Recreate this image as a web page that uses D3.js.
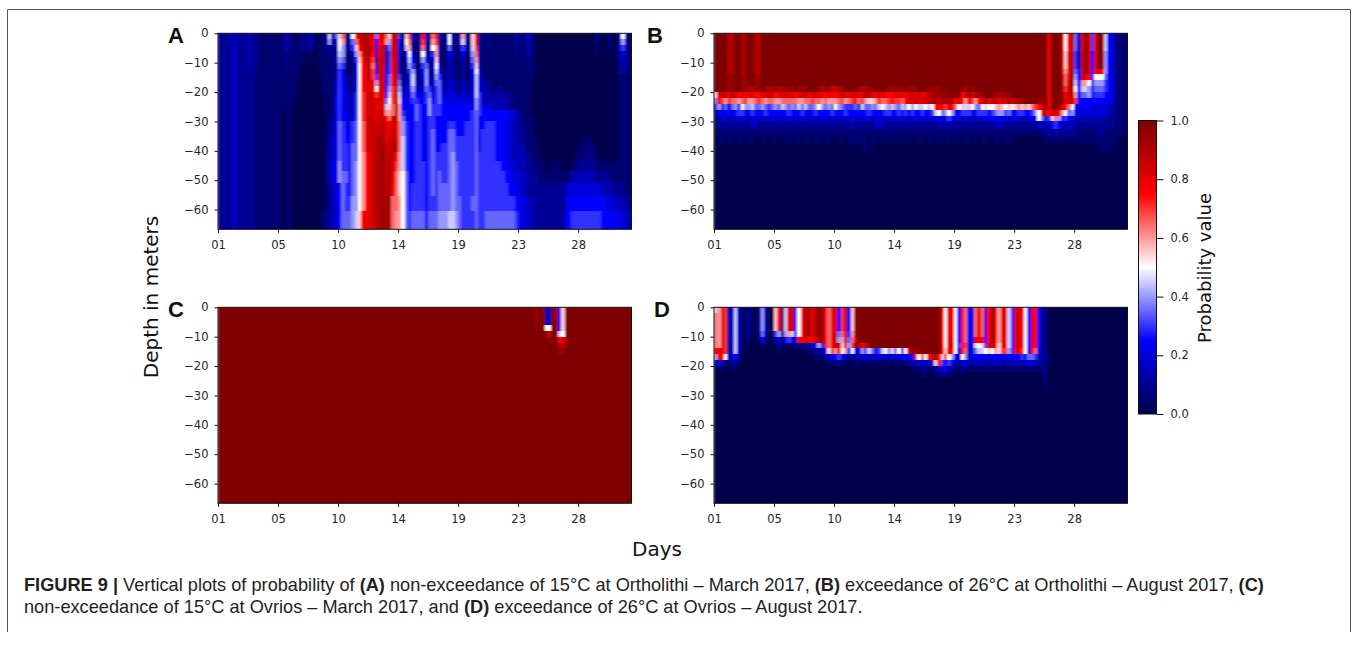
<!DOCTYPE html>
<html>
<head>
<meta charset="utf-8">
<script src="https://cdn.jsdelivr.net/npm/d3@7"></script>
<style>
  html, body { margin: 0; padding: 0; background: #fff; }
  svg { display: block; }
</style>
</head>
<body>
<div id="chart"></div>
<script>
// ======================================================================
// DATA, one string per depth row, one char per
// 6-hour step. Char is base 36, value = char / 20 (0 = 0.0, a = 0.5, k = 1.0)
// ======================================================================
const depthEdges = [0, -2, -4, -6, -8, -10, -12, -14, -16, -18, -20, -22, -24, -26, -28, -30,
  -32.5, -35, -37.5, -40.5, -43.5, -47, -51, -55.5, -60.5, -66.7];
const dayTicks = [0, 18, 36, 54, 72, 90, 108];
const dayLabels = ["01", "05", "10", "14", "19", "23", "28"];
const depthTicks = [0, -10, -20, -30, -40, -50, -60];
const colorTicks = [0, 0.2, 0.4, 0.6, 0.8, 1];
const colorStops = [0, 0.25, 0.5, 0.75, 1];
const colorRange = ["#00004c", "#0000ff", "#ffffff", "#ff0000", "#7f0000"];

const panelA = [
  "2222332223 2211111111 3211121320 112937bd23 afhiihg7fg dbhh61be31 3f41df313a 313c31bg21 1211111113 1134100000 0000000000 0002000200 3a21",
  "2222332223 2211111111 3211121320 112825ac22 7dgiihg5fg c8hi51ad21 2e31ce212a 213921bg21 1211111113 1123100000 0000000000 0002000200 3821",
  "2222332223 2211111111 3211121310 111313a822 6bfhiig4gh 37hi519c21 2d31ac2127 2126219e21 1111111112 1123100000 0000000000 0001000100 3621",
  "2222332223 2211111111 2111110100 1112139811 38cgiif3gh 26hi415a31 1a416c2115 2124218d21 1111111112 1122100000 0000000000 0001000100 3421",
  "2222332223 2211111111 2111110100 1111138711 26bfiie2hh 26gi413951 18514b3114 2113117c31 1111111111 1112100000 0000000000 0000000000 2321",
  "2222332223 2211111111 2111100000 1111137611 15afhid3hh 36gi312861 16713a4113 2112116b31 1111111111 1112100000 0000000000 0000000000 2221",
  "2222332222 2111111111 1111100000 1111136511 15afgie4hh 46gi412682 1582295213 2112115a41 1111111111 1111100000 0000000000 0000000000 2221",
  "2222332222 2111111111 1111000000 0111136521 25afgie6hh 47fi612592 2483286223 2112114951 1111111111 1111100000 0000000000 0000000000 1111",
  "2222332222 2111111111 1111000000 0111146522 25afghf8gh 47fi713493 2384377324 3213214952 2211111111 1111000000 0000000000 0000000000 1111",
  "2222332222 2111111111 1111000000 0111146522 25afgggagh 58ei834484 3376367334 3223224952 3211311111 1111000000 0000000000 0000000000 1111",
  "2222332222 2111111111 1110000000 0011146532 36aeghhegg 59ei944475 4467467434 4334334963 3322322211 1111000000 0000000000 0000000000 1111",
  "2222332222 2111111111 1110000000 0011156533 36aeghhggg 7aeib54566 5568567544 4444444863 3333332221 1111000000 0000000000 0000000000 1111",
  "2222332222 2111111111 1100000000 0011156533 36aeghhggh 9bdic54557 6558666555 5555555864 4433332211 1111000000 0000000000 0000000000 1111",
  "2222332222 2111111110 1100000000 0011156543 36aeghhghh ccdic64557 6558666555 5555556765 5555555543 2111000000 0000000000 0000000000 1111",
  "2222332222 2111111110 1100000000 0011256543 46aegihghh fdhhc74557 6546655555 5555556755 5555555443 2111100000 0000000000 0000000000 1111",
  "2222332222 2111111110 1100000000 0012257644 67adghhhhi gfhhd86556 6546655556 6555666755 6665554432 3111100000 0000000000 0000000000 1111",
  "2222332222 2111111110 1100000000 0012257654 67adghhhhi gghhd86556 6546755557 7555666756 6665554433 2211100000 0000000000 0000000000 1111",
  "2222332222 2111111110 1100000000 0012357655 67adghhiii ghhhd96556 6546755557 7666666756 6665554433 2211110000 0000000001 1100000000 1111",
  "2222332222 2111111110 1100000000 0012357665 77adghhiij hhiid96556 6546755667 7666666756 6665554433 3311110000 0000000011 1110000000 1111",
  "2222332222 2111111110 1100000000 0013357665 77acfghiij hihfc96556 6546766667 8666666766 6665554433 3322111000 0000000111 2211000000 1111",
  "2222332222 2111111110 1100000000 0013458665 78acfghiij hihec96556 6656766667 8766666766 6666655443 3322211100 1110001122 2221111111 1111",
  "2222332222 2111111110 1100000000 0013458775 78acfghiij hjgdba7556 6656767667 8766666766 6666665544 4332221111 1111113333 3332222211 1111",
  "2222332222 2111111110 1100000000 0012345765 78acfghiij hjfdba7566 6656767777 8766666766 6666666554 4332222222 2222344444 4444433322 2211",
  "2222332222 2111111110 1100000000 0012345766 88acfghiij ijddca7566 6656667777 8776667766 6666666665 5443322222 2222455555 5555554443 3322",
  "2222332222 2111111110 1100000000 0122345777 89bfgghiij ijdcca7677 7757778889 9876666766 7777777776 5443322222 2222556666 6666655555 4433"
];

const panelB = [
  "kkkkiikkij kkiikkkkkk kkkkkkkkkk kkkkkkkkkk kkkkkkkkkk kkkkkkkkkk kkkkkkkkkk kkkkkkkkkk kkkkkkkkkk kkkkkkkkkk gkkkhafi73 gkh6gkj954 2111",
  "kkkkiikkij kkiikkkkkk kkkkkkkkkk kkkkkkkkkk kkkkkkkkkk kkkkkkkkkk kkkkkkkkkk kkkkkkkkkk kkkkkkkkkk kkkkkkkkkk gkkkhafi73 gkh6gkj954 2111",
  "kkkkiikkij kkiikkkkkk kkkkkkkkkk kkkkkkkkkk kkkkkkkkkk kkkkkkkkkk kkkkkkkkkk kkkkkkkkkk kkkkkkkkkk kkkkkkkkkk gkkkhafi73 gkh6gkj954 2111",
  "kkkkiikkij kkiikkkkkk kkkkkkkkkk kkkkkkkkkk kkkkkkkkkk kkkkkkkkkk kkkkkkkkkk kkkkkkkkkk kkkkkkkkkk kkkkkkkkkk gkkkhbgi63 hkh5gkj854 2111",
  "kkkkiikkij kkiikkkkkk kkkkkkkkkk kkkkkkkkkk kkkkkkkkkk kkkkkkkkkk kkkkkkkkkk kkkkkkkkkk kkkkkkkkkk kkkkkkkkkk gkkkhbgi63 hkh5gkj854 2111",
  "kkkkiikkij kkiikkkkkk kkkkkkkkkk kkkkkkkkkk kkkkkkkkkk kkkkkkkkkk kkkkkkkkkk kkkkkkkkkk kkkkkkkkkk kkkkkkkkkk gkkkhbgi63 hkh5gkj854 2111",
  "kkkkiikkij kkiikkkkkk kkkkkkkkkk kkkkkkkkkk kkkkkkkkkk kkkkkkkkkk kkkkkkkkkk kkkkkkkkkk kkkkkkkkkk kkkkkkkkkk gkkkhcgj75 hkh5fgf854 2111",
  "kkkkjjkkjj kkjjkkkkkk kkkkkkkkkk kkkkkkkkkk kkkkkkkkkk kkkkkkkkkk kkkkkkkkkk kkkkkkkkkk kkkkkkkkkk kkkkkkkkkk gkkkidgj85 hgf5aaa754 2111",
  "kkkkjjkkjj kkjjkkkkkk kkkkkkkkkk kkkkkkkkkk kkkkkkkkkk kkkkkkkkkk kkkkkkkkkk kkkkkkkkkk kkkkkkkkkk kkkkkkkkkk gkkkidhj95 cca5888654 2111",
  "kkkkjjkkjj iijjkjiiji ijjjkjjjkk kjijjhhijk kkkjiijjkk kkjjjjjkjj jkkkjjjjkk kkkkjikjkk kkkkkkkkkk kkkkkkkkkk gkkkiehia5 9985777654 2111",
  "bhhhgihfgf ggffgghhfg ghggfghhgg hggfgffgig gghggihgfh ggffgggfhh ghggiijjjj jkjkfgjgij jkkkjijjjk kkkkkkkkkk gkkkjfhic5 7785666554 2111",
  "7feceddcde ccdedcddcc dddddccdde ddcdcccdec defdecbbce ddefeedfgg hgghhiihii iifgfcfecf gighighgih iijkkkkjjk gjkkjgghe5 5555555544 2111",
  "48575786a8 8977876787 9878797977 8a8787a876 6676977879 a9898798a8 a99a9affge gfda9b9a87 abaabcbaba bcbcbdefhj gkkjgfda54 5554444433 2111",
  "1544545665 5655565555 5565556555 6555565556 5555556555 5665565656 5565569a78 a855666556 6656788675 5665568ahh fhhfca7854 4444444432 2111",
  "1334344434 3443434443 4444344434 4344344343 4443444344 4343443434 4444444555 6544344334 4455554444 4433455a75 6bd8565533 3333333222 2111",
  "1222222222 2332222222 2222222222 2222222222 2322222233 3222222222 2222222322 3222222222 2222333222 2222222333 3565333322 2222222222 1111",
  "0111111111 1111111111 1111111111 1111111111 1111111111 1111111111 1111111111 1111111111 1111111111 1111111122 2232222221 1111122111 1111",
  "0110110110 1100110110 0110110110 1101100110 1111110110 1011011010 0110110110 1011011010 1100110110 0000000001 1111111111 1111111111 1000",
  "0000000000 0000000000 0000000000 0000000000 0100110100 0000000000 0000000000 0000000000 0000000000 0000000000 0000000000 0000011110 1000",
  "0000000000 0000000000 0000000000 0000000000 0000000000 0000000000 0000000000 0000000000 0000000000 0000000000 0000000000 0000000000 0000",
  "0000000000 0000000000 0000000000 0000000000 0000000000 0000000000 0000000000 0000000000 0000000000 0000000000 0000000000 0000000000 0000",
  "0000000000 0000000000 0000000000 0000000000 0000000000 0000000000 0000000000 0000000000 0000000000 0000000000 0000000000 0000000000 0000",
  "0000000000 0000000000 0000000000 0000000000 0000000000 0000000000 0000000000 0000000000 0000000000 0000000000 0000000000 0000000000 0000",
  "0000000000 0000000000 0000000000 0000000000 0000000000 0000000000 0000000000 0000000000 0000000000 0000000000 0000000000 0000000000 0000",
  "0000000000 0000000000 0000000000 0000000000 0000000000 0000000000 0000000000 0000000000 0000000000 0000000000 0000000000 0000000000 0000"
];

const panelC = [
  "kkkkkkkkkk kkkkkkkkkk kkkkkkkkkk kkkkkkkkkk kkkkkkkkkk kkkkkkkkkk kkkkkkkkkk kkkkkkkkkk kkkkkkkkkk kkkkkjkk33 kj5bkkkkkk kkkkkkkkkk kkkk",
  "kkkkkkkkkk kkkkkkkkkk kkkkkkkkkk kkkkkkkkkk kkkkkkkkkk kkkkkkkkkk kkkkkkkkkk kkkkkkkkkk kkkkkkkkkk kkkkkjkk33 kj5bkkkkkk kkkkkkkkkk kkkk",
  "kkkkkkkkkk kkkkkkkkkk kkkkkkkkkk kkkkkkkkkk kkkkkkkkkk kkkkkkkkkk kkkkkkkkkk kkkkkkkkkk kkkkkkkkkk kkkkkjkk33 kj5bkkkkkk kkkkkkkkkk kkkk",
  "kkkkkkkkkk kkkkkkkkkk kkkkkkkkkk kkkkkkkkkk kkkkkkkkkk kkkkkkkkkk kkkkkkkkkk kkkkkkkkkk kkkkkkkkkk kkkkkjkkaa kj5bkkkkkk kkkkkkkkkk kkkk",
  "kkkkkkkkkk kkkkkkkkkk kkkkkkkkkk kkkkkkkkkk kkkkkkkkkk kkkkkkkkkk kkkkkkkkkk kkkkkkkkkk kkkkkkkkkk kkkkkkkkjh kj9akkkkkk kkkkkkkkkk kkkk",
  "kkkkkkkkkk kkkkkkkkkk kkkkkkkkkk kkkkkkkkkk kkkkkkkkkk kkkkkkkkkk kkkkkkkkkk kkkkkkkkkk kkkkkkkkkk kkkkkkkkkj kkfgjkkkkk kkkkkkkkkk kkkk",
  "kkkkkkkkkk kkkkkkkkkk kkkkkkkkkk kkkkkkkkkk kkkkkkkkkk kkkkkkkkkk kkkkkkkkkk kkkkkkkkkk kkkkkkkkkk kkkkkkkkkk kkiijkkkkk kkkkkkkkkk kkkk",
  "kkkkkkkkkk kkkkkkkkkk kkkkkkkkkk kkkkkkkkkk kkkkkkkkkk kkkkkkkkkk kkkkkkkkkk kkkkkkkkkk kkkkkkkkkk kkkkkkkkkk kkjjkkkkkk kkkkkkkkkk kkkk",
  "kkkkkkkkkk kkkkkkkkkk kkkkkkkkkk kkkkkkkkkk kkkkkkkkkk kkkkkkkkkk kkkkkkkkkk kkkkkkkkkk kkkkkkkkkk kkkkkkkkkk kkkkkkkkkk kkkkkkkkkk kkkk",
  "kkkkkkkkkk kkkkkkkkkk kkkkkkkkkk kkkkkkkkkk kkkkkkkkkk kkkkkkkkkk kkkkkkkkkk kkkkkkkkkk kkkkkkkkkk kkkkkkkkkk kkkkkkkkkk kkkkkkkkkk kkkk",
  "kkkkkkkkkk kkkkkkkkkk kkkkkkkkkk kkkkkkkkkk kkkkkkkkkk kkkkkkkkkk kkkkkkkkkk kkkkkkkkkk kkkkkkkkkk kkkkkkkkkk kkkkkkkkkk kkkkkkkkkk kkkk",
  "kkkkkkkkkk kkkkkkkkkk kkkkkkkkkk kkkkkkkkkk kkkkkkkkkk kkkkkkkkkk kkkkkkkkkk kkkkkkkkkk kkkkkkkkkk kkkkkkkkkk kkkkkkkkkk kkkkkkkkkk kkkk",
  "kkkkkkkkkk kkkkkkkkkk kkkkkkkkkk kkkkkkkkkk kkkkkkkkkk kkkkkkkkkk kkkkkkkkkk kkkkkkkkkk kkkkkkkkkk kkkkkkkkkk kkkkkkkkkk kkkkkkkkkk kkkk",
  "kkkkkkkkkk kkkkkkkkkk kkkkkkkkkk kkkkkkkkkk kkkkkkkkkk kkkkkkkkkk kkkkkkkkkk kkkkkkkkkk kkkkkkkkkk kkkkkkkkkk kkkkkkkkkk kkkkkkkkkk kkkk",
  "kkkkkkkkkk kkkkkkkkkk kkkkkkkkkk kkkkkkkkkk kkkkkkkkkk kkkkkkkkkk kkkkkkkkkk kkkkkkkkkk kkkkkkkkkk kkkkkkkkkk kkkkkkkkkk kkkkkkkkkk kkkk",
  "kkkkkkkkkk kkkkkkkkkk kkkkkkkkkk kkkkkkkkkk kkkkkkkkkk kkkkkkkkkk kkkkkkkkkk kkkkkkkkkk kkkkkkkkkk kkkkkkkkkk kkkkkkkkkk kkkkkkkkkk kkkk",
  "kkkkkkkkkk kkkkkkkkkk kkkkkkkkkk kkkkkkkkkk kkkkkkkkkk kkkkkkkkkk kkkkkkkkkk kkkkkkkkkk kkkkkkkkkk kkkkkkkkkk kkkkkkkkkk kkkkkkkkkk kkkk",
  "kkkkkkkkkk kkkkkkkkkk kkkkkkkkkk kkkkkkkkkk kkkkkkkkkk kkkkkkkkkk kkkkkkkkkk kkkkkkkkkk kkkkkkkkkk kkkkkkkkkk kkkkkkkkkk kkkkkkkkkk kkkk",
  "kkkkkkkkkk kkkkkkkkkk kkkkkkkkkk kkkkkkkkkk kkkkkkkkkk kkkkkkkkkk kkkkkkkkkk kkkkkkkkkk kkkkkkkkkk kkkkkkkkkk kkkkkkkkkk kkkkkkkkkk kkkk",
  "kkkkkkkkkk kkkkkkkkkk kkkkkkkkkk kkkkkkkkkk kkkkkkkkkk kkkkkkkkkk kkkkkkkkkk kkkkkkkkkk kkkkkkkkkk kkkkkkkkkk kkkkkkkkkk kkkkkkkkkk kkkk",
  "kkkkkkkkkk kkkkkkkkkk kkkkkkkkkk kkkkkkkkkk kkkkkkkkkk kkkkkkkkkk kkkkkkkkkk kkkkkkkkkk kkkkkkkkkk kkkkkkkkkk kkkkkkkkkk kkkkkkkkkk kkkk",
  "kkkkkkkkkk kkkkkkkkkk kkkkkkkkkk kkkkkkkkkk kkkkkkkkkk kkkkkkkkkk kkkkkkkkkk kkkkkkkkkk kkkkkkkkkk kkkkkkkkkk kkkkkkkkkk kkkkkkkkkk kkkk",
  "kkkkkkkkkk kkkkkkkkkk kkkkkkkkkk kkkkkkkkkk kkkkkkkkkk kkkkkkkkkk kkkkkkkkkk kkkkkkkkkk kkkkkkkkkk kkkkkkkkkk kkkkkkkkkk kkkkkkkkkk kkkk",
  "kkkkkkkkkk kkkkkkkkkk kkkkkkkkkk kkkkkkkkkk kkkkkkkkkk kkkkkkkkkk kkkkkkkkkk kkkkkkkkkk kkkkkkkkkk kkkkkkkkkk kkkkkkkkkk kkkkkkkkkk kkkk",
  "kkkkkkkkkk kkkkkkkkkk kkkkkkkkkk kkkkkkkkkk kkkkkkkkkk kkkkkkkkkk kkkkkkkkkk kkkkkkkkkk kkkkkkkkkk kkkkkkkkkk kkkkkkkkkk kkkkkkkkkk kkkk"
];

const panelD = [
  "9cge249301 20028300bf 19gh5afiig ijjfdgg5eh 5bjkkkkkkk kkkkkkkkkk kkkkkkkkfa gfa5fd54dg d4fjgcgg95 ghfa5gf512 0000000000 0000000000 0000",
  "dcge249301 20028300bf 19gh5afiig ijjfdgg5eh 5bjkkkkkkk kkkkkkkkkk kkkkkkkkfa gfa5fd54dg d4fjgcgg95 ghfa5gf512 0000000000 0000000000 0000",
  "dcge249301 20028300bf 19gh5afiig ijjfdgg5eh 5bjkkkkkkk kkkkkkkkkk kkkkkkkkfa gfa5fd54dg d4fjgcgg95 ghfa5gf512 0000000000 0000000000 0000",
  "dcge249301 20028300bf 19gh5afiig ijjfdgg5eh 5bjkkkkkkk kkkkkkkkkk kkkkkkkkfa gfa5fd54dg d4fjgcgg95 ghfa5gf512 0000000000 0000000000 0000",
  "dcge249301 2002730068 18c94afiig ijjfdgh7dh 6cjkkkkkkk kkkkkkkkkk kkkkkkkkfa gfa5fd54dg d4fjgcgg95 ghfa5gf512 0000000000 0000000000 0000",
  "dcge249301 1001520034 15653fggff gijfdgh8ch 7dhkkkkkkk kkkkkkkkkk kkkkkkkkfa gga5fd54gf f5fjgcgg95 ghfa5gf512 0000000000 0000000000 0000",
  "dcge249301 0000100012 0111122234 484fdghhbg 8ekhggjkkk kkkkkkkkkk kkkkkkkkfa gha6fe54ba b6hggbgg95 ghfa5gf512 0000000000 0000000000 0000",
  "gfge249301 0000000001 0000000011 2235bfcfac 6a55869756 9a8b7a5ahj jjkkkkkkfb gfa4fd3479 9abacbee85 fgea4fd412 0000000000 0000000000 0000",
  "8ffa345200 0000000000 0000000000 1112354634 2323343434 3434344555 gafafgjfbf a853a83455 5545545545 5565776322 1000000000 0000000000 0000",
  "1522122100 0000000000 0000000000 0000111211 0011011111 0010111122 343434bf65 6432443233 3223332233 3333443221 1000000000 0000000000 0000",
  "0110011000 0000000000 0000000000 0000000000 0000000000 0000000001 1122112345 2211211111 1111111111 1111111112 0000000000 0000000000 0000",
  "0000000000 0000000000 0000000000 0000000000 0000000000 0000000000 0011001122 1100100000 0000000000 0000000011 0000000000 0000000000 0000",
  "0000000000 0000000000 0000000000 0000000000 0000000000 0000000000 0000000000 0000000000 0000000000 0000000011 0000000000 0000000000 0000",
  "0000000000 0000000000 0000000000 0000000000 0000000000 0000000000 0000000000 0000000000 0000000000 0000000001 0000000000 0000000000 0000",
  "0000000000 0000000000 0000000000 0000000000 0000000000 0000000000 0000000000 0000000000 0000000000 0000000001 0000000000 0000000000 0000",
  "0000000000 0000000000 0000000000 0000000000 0000000000 0000000000 0000000000 0000000000 0000000000 0000000000 0000000000 0000000000 0000",
  "0000000000 0000000000 0000000000 0000000000 0000000000 0000000000 0000000000 0000000000 0000000000 0000000000 0000000000 0000000000 0000",
  "0000000000 0000000000 0000000000 0000000000 0000000000 0000000000 0000000000 0000000000 0000000000 0000000000 0000000000 0000000000 0000",
  "0000000000 0000000000 0000000000 0000000000 0000000000 0000000000 0000000000 0000000000 0000000000 0000000000 0000000000 0000000000 0000",
  "0000000000 0000000000 0000000000 0000000000 0000000000 0000000000 0000000000 0000000000 0000000000 0000000000 0000000000 0000000000 0000",
  "0000000000 0000000000 0000000000 0000000000 0000000000 0000000000 0000000000 0000000000 0000000000 0000000000 0000000000 0000000000 0000",
  "0000000000 0000000000 0000000000 0000000000 0000000000 0000000000 0000000000 0000000000 0000000000 0000000000 0000000000 0000000000 0000",
  "0000000000 0000000000 0000000000 0000000000 0000000000 0000000000 0000000000 0000000000 0000000000 0000000000 0000000000 0000000000 0000",
  "0000000000 0000000000 0000000000 0000000000 0000000000 0000000000 0000000000 0000000000 0000000000 0000000000 0000000000 0000000000 0000",
  "0000000000 0000000000 0000000000 0000000000 0000000000 0000000000 0000000000 0000000000 0000000000 0000000000 0000000000 0000000000 0000"
];

// caption runs: [text, bold]
const captionLine1 = [["FIGURE 9 | ", true], ["Vertical plots of probability of ", false], ["(A) ", true],
  ["non-exceedance of 15°C at Ortholithi – March 2017, ", false], ["(B) ", true],
  ["exceedance of 26°C at Ortholithi – August 2017, ", false], ["(C)", true]];
const captionLine2 = [["non-exceedance of 15°C at Ovrios – March 2017, and ", false], ["(D) ", true],
  ["exceedance of 26°C at Ovrios – August 2017.", false]];

// ---------------------------
// LAYOUT
// ---------------------------
const width = 1358;
const height = 654;
const plotW = 413.5;
const plotH = 196;
const axisFont = "'DejaVu Sans', sans-serif";
const textColor = "#262626";

const svg = d3.select("#chart").append("svg")
  .attr("width", width)
  .attr("height", height);

const color = d3.scaleLinear().domain(colorStops).range(colorRange);

const defs = svg.append("defs");
defs.append("filter")
  .attr("id", "soft")
  .attr("x", "-2%").attr("y", "-2%")
  .attr("width", "104%").attr("height", "104%")
  .append("feGaussianBlur")
  .attr("stdDeviation", "1 0.7");

// Page frame
svg.append("path")
  .attr("d", "M7.5,632V9.5H1350.5V632")
  .attr("fill", "none")
  .attr("stroke", "#555")
  .attr("stroke-width", 1);

// ======================================================================
// DRAW ONE HEATMAP PANEL
// ======================================================================
const drawPanel = (rows, left, top, letter, letterX, id) => {
  const cells = rows.map(r => r.replace(/ /g, ""));
  const nCols = cells[0].length;

  const x = d3.scaleLinear().domain([0, nCols]).range([0, plotW]);
  const y = d3.scaleLinear().domain([0, -66.7]).range([0, plotH]);

  const g = svg.append("g").attr("transform", `translate(${left},${top})`);

  defs.append("clipPath").attr("id", id)
    .append("rect").attr("width", plotW).attr("height", plotH);

  const cellG = g.append("g").attr("clip-path", `url(#${id})`)
    .append("g").attr("filter", "url(#soft)")
    .attr("shape-rendering", "crispEdges");

  cells.forEach((row, r) => {
    cellG.selectAll(null)
      .data(row.split(""))
      .join("rect")
      .attr("x", (d, i) => x(i))
      .attr("y", y(depthEdges[r]))
      .attr("width", x(1) - x(0) + 1)
      .attr("height", y(depthEdges[r + 1]) - y(depthEdges[r]) + 1)
      .attr("fill", d => color(parseInt(d, 36) / 20));
  });

  // Spines
  g.append("rect")
    .attr("width", plotW)
    .attr("height", plotH)
    .attr("fill", "none")
    .attr("stroke", "#111")
    .attr("stroke-width", 1);

  const xAxis = d3.axisBottom(x)
    .tickValues(dayTicks)
    .tickFormat((d, i) => dayLabels[i])
    .tickSize(3.5)
    .tickPadding(8.5)
    .tickSizeOuter(0);

  const yAxis = d3.axisLeft(y)
    .tickValues(depthTicks)
    .tickFormat(d => d3.format("")(d).replace("-", "−"))
    .tickSize(3.5)
    .tickPadding(6)
    .tickSizeOuter(0);

  [g.append("g").attr("transform", `translate(0,${plotH})`).call(xAxis),
   g.append("g").call(yAxis)].forEach(a => {
    a.select(".domain").remove();
    a.selectAll("line").attr("stroke", "#111");
    a.selectAll("text")
      .attr("fill", textColor)
      .style("font-family", axisFont)
      .style("font-size", "11.5px");
  });

  // Panel letter
  svg.append("text")
    .attr("x", letterX)
    .attr("y", top + 10)
    .attr("font-family", "'Liberation Sans', Arial, sans-serif")
    .attr("font-weight", "bold")
    .attr("font-size", 22)
    .attr("fill", "#111")
    .text(letter);
};

drawPanel(panelA, 218, 33.3, "A", 168, "clip-a");
drawPanel(panelB, 714, 33.3, "B", 647, "clip-b");
drawPanel(panelC, 218, 307.3, "C", 168, "clip-c");
drawPanel(panelD, 714, 307.3, "D", 654, "clip-d");

// ======================================================================
// COLOUR BAR
// ======================================================================
const cbar = svg.append("g").attr("transform", "translate(1138.5,120.5)");
const cbarH = 293.5;
const cbarW = 18;
const cbarScale = d3.scaleLinear().domain([0, 1]).range([cbarH, 0]);

const grad = defs.append("linearGradient")
  .attr("id", "cbar-gradient")
  .attr("x1", "0%").attr("y1", "100%")
  .attr("x2", "0%").attr("y2", "0%");

grad.selectAll("stop")
  .data(colorStops)
  .join("stop")
  .attr("offset", d => `${d * 100}%`)
  .attr("stop-color", d => color(d));

cbar.append("rect")
  .attr("width", cbarW)
  .attr("height", cbarH)
  .attr("fill", "url(#cbar-gradient)")
  .attr("stroke", "#111")
  .attr("stroke-width", 1);

cbar.append("g")
  .attr("transform", `translate(${cbarW},0)`)
  .call(d3.axisRight(cbarScale).tickValues(colorTicks).tickFormat(d3.format(".1f")).tickSize(7).tickPadding(7).tickSizeOuter(0))
  .call(a => a.select(".domain").remove())
  .call(a => a.selectAll("line").attr("stroke", "#111"))
  .call(a => a.selectAll("text")
    .attr("fill", textColor)
    .style("font-family", axisFont)
    .style("font-size", "11.5px"));

// ======================================================================
// SHARED LABELS
// ======================================================================
const bigLabel = (text, x, y, rotate, size) => svg.append("text")
  .attr("transform", `translate(${x},${y})${rotate ? " rotate(-90)" : ""}`)
  .attr("text-anchor", "middle")
  .attr("font-family", axisFont)
  .attr("font-size", size)
  .attr("fill", "#111")
  .text(text);

bigLabel("Depth in meters", 158, 297, true, 20);
bigLabel("Days", 657, 556, false, 20);
bigLabel("Probability value", 1211, 268, true, 18);

// ======================================================================
// CAPTION
// ======================================================================
const drawCaption = (runs, y) => {
  const t = svg.append("text")
    .attr("x", 24)
    .attr("y", y)
    .attr("font-family", "'Liberation Sans', Arial, sans-serif")
    .attr("font-size", 18.2)
    .attr("fill", "#231f20")
    .attr("xml:space", "preserve");
  runs.forEach(([str, bold]) => {
    t.append("tspan")
      .attr("font-weight", bold ? "bold" : "normal")
      .text(str);
  });
};

drawCaption(captionLine1, 591);
drawCaption(captionLine2, 613);
</script>
</body>
</html>
